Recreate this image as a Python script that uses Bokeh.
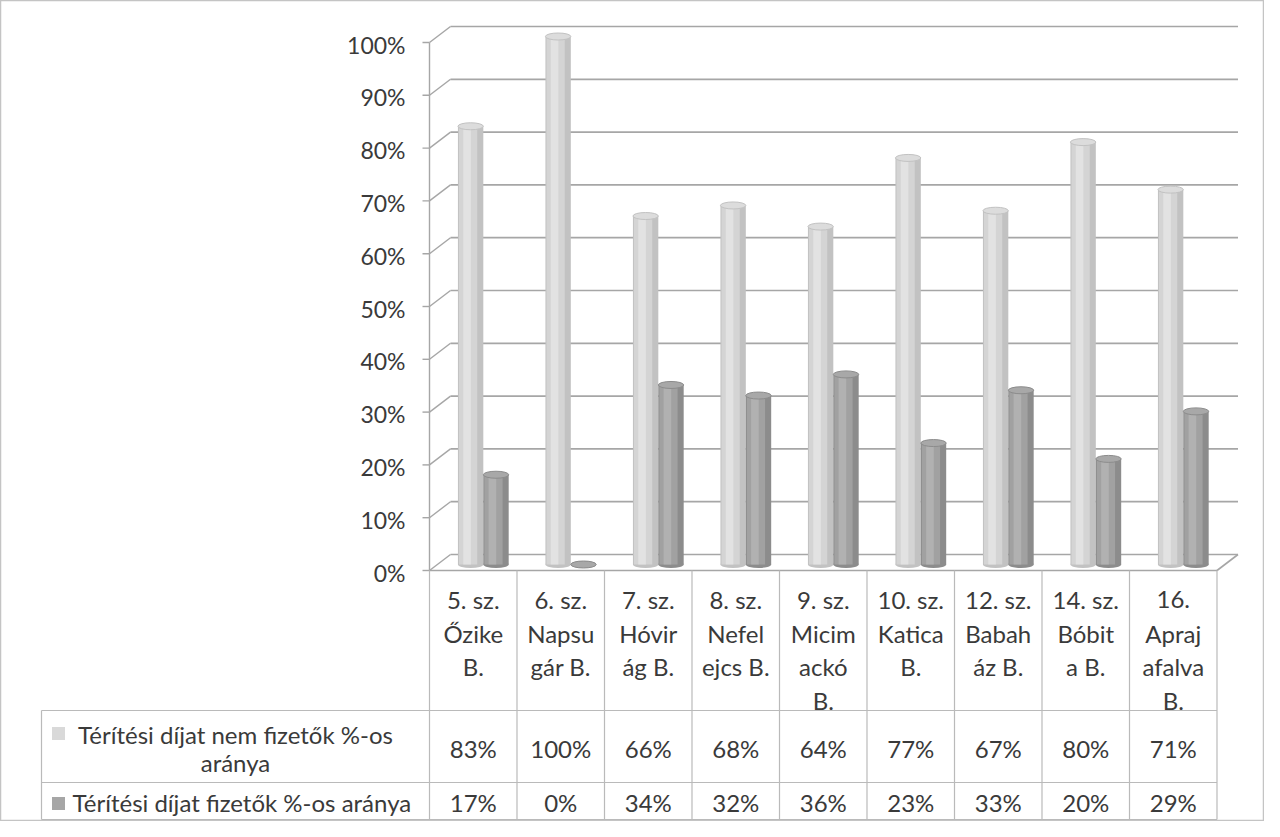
from bokeh.plotting import figure
from bokeh.models import Range1d
from bokeh.core.properties import value
from bokeh.embed import file_html
from bokeh.resources import INLINE

# ---------------- data ----------------
categories = ["5. sz.\nŐzike\nB.", "6. sz.\nNapsu\ngár B.", "7. sz.\nHóvir\nág B.",
              "8. sz.\nNefel\nejcs B.", "9. sz.\nMicim\nackó\nB.", "10. sz.\nKatica\nB.",
              "12. sz.\nBabah\náz B.", "14. sz.\nBóbit\na B.", "16.\nApraj\nafalva\nB."]
series_names = ["Térítési díjat nem fizetők %-os aránya",
                "Térítési díjat fizetők %-os aránya"]
non_paying = [83, 100, 66, 68, 64, 77, 67, 80, 71]
paying = [17, 0, 34, 32, 36, 23, 33, 20, 29]
y_ticks = [0, 10, 20, 30, 40, 50, 60, 70, 80, 90, 100]
y_tick_labels = [f"{t}%" for t in y_ticks]

# ---------------- geometry (page pixels) ----------------
W, H = 1264, 821
ORG = 8
AXIS_X = 437.0
FLOOR_Y = 578.0
PX_COL = 87.5
PX_PCT = 5.28


def X(px):
    return (px - AXIS_X) / PX_COL


def Y(py):
    return (FLOOR_Y - py) / PX_PCT


BDX = 21 / PX_COL          # back plane depth offset
BDY = 16 / PX_PCT
BAR_DY = 6 / PX_PCT        # bars stand in the middle of the depth

FONT = value("Lato")
TXT = "#3a3a3a"
FS = "24px"
FS_AX = "23px"

p = figure(width=W, height=H, output_backend="svg", toolbar_location=None,
           x_axis_location=None, y_axis_location=None, min_border=0,
           x_range=Range1d(X(ORG), X(ORG + W)),
           y_range=Range1d(Y(ORG + H), Y(ORG)))
p.extra_y_ranges = {"bars": Range1d(Y(ORG + H) - BAR_DY, Y(ORG) - BAR_DY)}
p.xgrid.grid_line_color = None
p.ygrid.grid_line_color = None
p.outline_line_color = "#c4c4c4"
p.outline_line_width = 1.5
p.background_fill_color = "white"
p.border_fill_color = "white"

n = len(categories)
grid_col = "#a6a6a6"

# back wall gridlines, side diagonals, ticks
p.segment(x0=[BDX] * len(y_ticks), y0=[t + BDY for t in y_ticks],
          x1=[n + BDX] * len(y_ticks), y1=[t + BDY for t in y_ticks],
          line_color=grid_col, line_width=1.7)
p.segment(x0=[0] * len(y_ticks), y0=y_ticks,
          x1=[BDX] * len(y_ticks), y1=[t + BDY for t in y_ticks],
          line_color=grid_col, line_width=1.4)
p.segment(x0=[X(430)] * len(y_ticks), y0=y_ticks, x1=[0] * len(y_ticks), y1=y_ticks,
          line_color=grid_col, line_width=1.4)
# floor front edge and right edge
p.segment(x0=[0, n], y0=[0, 0], x1=[n, n + BDX], y1=[0, BDY],
          line_color=grid_col, line_width=1.6)

# table
tbl_bottom = Y(827)
hdr_bottom = Y(718)
row_line = Y(790)
left_x = X(49)
tab_col = "#bababa"
p.segment(x0=list(range(n + 1)), y0=[0] * (n + 1), x1=list(range(n + 1)),
          y1=[tbl_bottom] * (n + 1), line_color=tab_col, line_width=1.2)
p.segment(x0=[0], y0=[0], x1=[0], y1=[100], line_color=grid_col, line_width=1.4)
p.segment(x0=[left_x] * 3, y0=[hdr_bottom, row_line, tbl_bottom],
          x1=[n] * 3, y1=[hdr_bottom, row_line, tbl_bottom],
          line_color=tab_col, line_width=1.2)
p.segment(x0=[left_x], y0=[hdr_bottom], x1=[left_x], y1=[tbl_bottom],
          line_color=tab_col, line_width=1.2)

# ---------------- cylinders ----------------
bar_w = 0.29
cap_h = 7 / PX_PCT


def cylinders(xs, vals, edge, base, hi, cap):
    p.ellipse(x=xs, y=[0] * len(xs), width=bar_w, height=cap_h,
              fill_color=edge, line_color=None, y_range_name="bars")
    p.vbar(x=xs, bottom=0, top=vals, width=bar_w, fill_color=edge,
           line_color=None, y_range_name="bars")
    p.vbar(x=[x - bar_w * 0.1 for x in xs], bottom=0, top=vals, width=bar_w * 0.72,
           fill_color=base, line_color=None, y_range_name="bars")
    p.vbar(x=[x - bar_w * 0.14 for x in xs], bottom=0, top=vals, width=bar_w * 0.3,
           fill_color=hi, line_color=None, y_range_name="bars")
    p.ellipse(x=xs, y=vals, width=bar_w, height=cap_h, fill_color=cap,
              line_color=edge, line_width=1, y_range_name="bars")


xs_light = [i + 0.5 - 0.03 for i in range(n)]
xs_dark = [i + 0.5 + 0.26 for i in range(n)]
cylinders(xs_light, non_paying, "#c2c2c2", "#d4d4d4", "#e2e2e2", "#dcdcdc")
cylinders(xs_dark, paying, "#8c8c8c", "#a1a1a1", "#b1b1b1", "#a8a8a8")

# ---------------- texts ----------------
p.text(x=[X(413)] * len(y_ticks), y=y_ticks, text=y_tick_labels, text_align="right",
       text_baseline="middle", y_offset=2, text_font=FONT, text_font_size=FS_AX,
       text_color=TXT)

hx, hy, ht = [], [], []
for i, c in enumerate(categories):
    for j, line in enumerate(c.split("\n")):
        hx.append(i + 0.5)
        hy.append(Y(607 + 33.5 * j))
        ht.append(line)
p.text(x=hx, y=hy, text=ht, text_align="center", text_baseline="middle",
       text_font=FONT, text_font_size=FS, text_color=TXT)

p.text(x=[i + 0.5 for i in range(n)], y=[Y(756)] * n, text=[f"{v}%" for v in non_paying],
       text_align="center", text_baseline="middle", text_font=FONT, text_font_size=FS,
       text_color=TXT)
p.text(x=[i + 0.5 for i in range(n)], y=[Y(810)] * n, text=[f"{v}%" for v in paying],
       text_align="center", text_baseline="middle", text_font=FONT, text_font_size=FS,
       text_color=TXT)

# row labels with legend keys
first, last = series_names[0].rsplit(" ", 1)
p.text(x=[X(243)] * 2, y=[Y(742), Y(770)], text=[first, last], text_align="center",
       text_baseline="middle", text_font=FONT, text_font_size=FS, text_color=TXT)
p.text(x=[X(80)], y=[Y(810)], text=[series_names[1]], text_align="left",
       text_baseline="middle", text_font=FONT, text_font_size=FS, text_color=TXT)
p.rect(x=[X(66), X(66)], y=[Y(741), Y(811)], width=13, height=13, width_units="screen",
       height_units="screen", fill_color=["#d9d9d9", "#a6a6a6"], line_color=None)

open("out.html", "w").write(file_html(p, INLINE))
